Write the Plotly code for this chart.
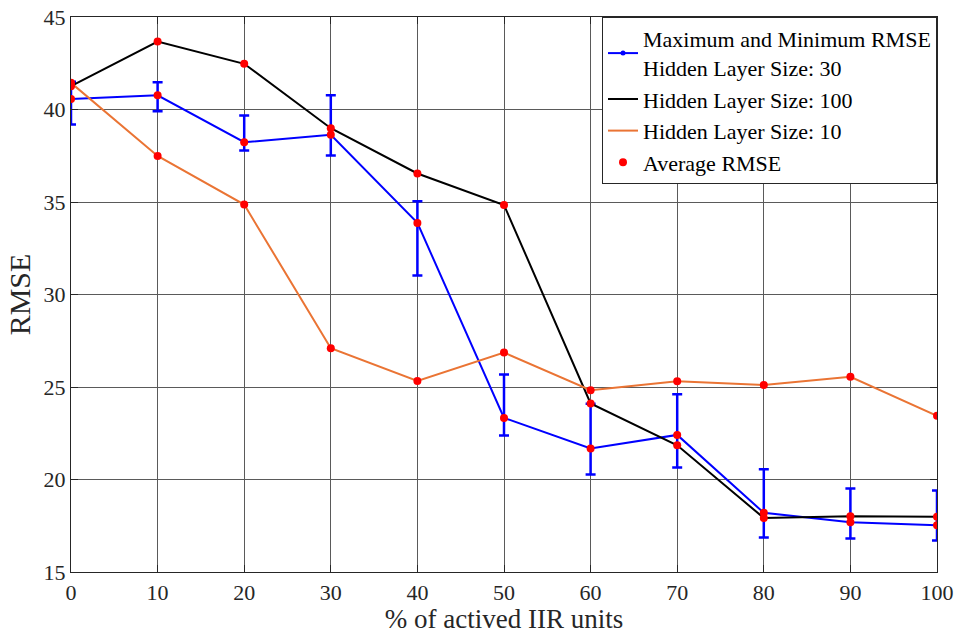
import plotly.graph_objects as go

x = [0, 10, 20, 30, 40, 50, 60, 70, 80, 90, 100]
h30_avg = [40.57, 40.77, 38.23, 38.63, 33.87, 23.33, 21.68, 22.41, 18.20, 17.69, 17.53]
h30_max = [41.50, 41.47, 39.67, 40.77, 35.04, 25.67, 24.10, 24.61, 20.56, 19.51, 19.40]
h30_min = [39.19, 39.90, 37.78, 37.51, 31.03, 22.38, 20.27, 20.65, 16.86, 16.81, 16.70]
h100_avg = [41.26, 43.67, 42.47, 38.99, 36.54, 34.84, 24.11, 21.85, 17.92, 18.02, 17.98]
h10_avg = [41.44, 37.49, 34.86, 27.10, 25.33, 26.86, 24.83, 25.31, 25.11, 25.55, 23.44]

err_plus = [mx - a for mx, a in zip(h30_max, h30_avg)]
err_minus = [a - mn for mn, a in zip(h30_min, h30_avg)]

FONT = "Liberation Serif"
fig = go.Figure()
fig.add_trace(go.Scatter(
    x=x, y=h30_avg, mode="lines+markers",
    name="Maximum and Minimum RMSE<br>Hidden Layer Size: 30",
    line=dict(color="#0000FF", width=2),
    marker=dict(color="#0000FF", size=5),
    error_y=dict(type="data", symmetric=False, array=err_plus, arrayminus=err_minus,
                 color="#0000FF", thickness=2.5, width=5),
))
fig.add_trace(go.Scatter(x=x, y=h100_avg, mode="lines", name="Hidden Layer Size: 100",
                         line=dict(color="#000000", width=2)))
fig.add_trace(go.Scatter(x=x, y=h10_avg, mode="lines", name="Hidden Layer Size: 10",
                         line=dict(color="#EA7434", width=2)))
fig.add_trace(go.Scatter(x=x * 3, y=h30_avg + h100_avg + h10_avg, mode="markers",
                         name="Average RMSE",
                         marker=dict(color="#FF0000", size=8)))

axis_common = dict(
    showline=True, linecolor="#262626", linewidth=1.2, mirror="ticks",
    ticks="inside", ticklen=7, tickcolor="#262626",
    showgrid=True, gridcolor="#5a5a5a", gridwidth=1,
    zeroline=False, automargin=False,
    tickfont=dict(family=FONT, size=22, color="#262626"),
)
fig.update_xaxes(range=[0, 100], tickvals=x, title=dict(text="% of actived IIR units",
                 font=dict(family=FONT, size=27, color="#262626"), standoff=2), **axis_common)
fig.update_yaxes(range=[15, 45], tickvals=[15, 20, 25, 30, 35, 40, 45],
                 title=dict(text="RMSE", font=dict(family=FONT, size=30, color="#262626"), standoff=4),
                 **axis_common)
fig.update_layout(
    width=959, height=639,
    margin=dict(l=71, r=22, t=17, b=67),
    paper_bgcolor="white", plot_bgcolor="white",
    font=dict(family=FONT, size=22, color="#000000"),
    legend=dict(x=1, y=1, xanchor="right", yanchor="top",
                bordercolor="#262626", borderwidth=1, bgcolor="white",
                font=dict(family=FONT, size=22, color="#000000"),
                tracegroupgap=0, itemwidth=30),
    showlegend=True,
)
fig.write_html("out.html")
